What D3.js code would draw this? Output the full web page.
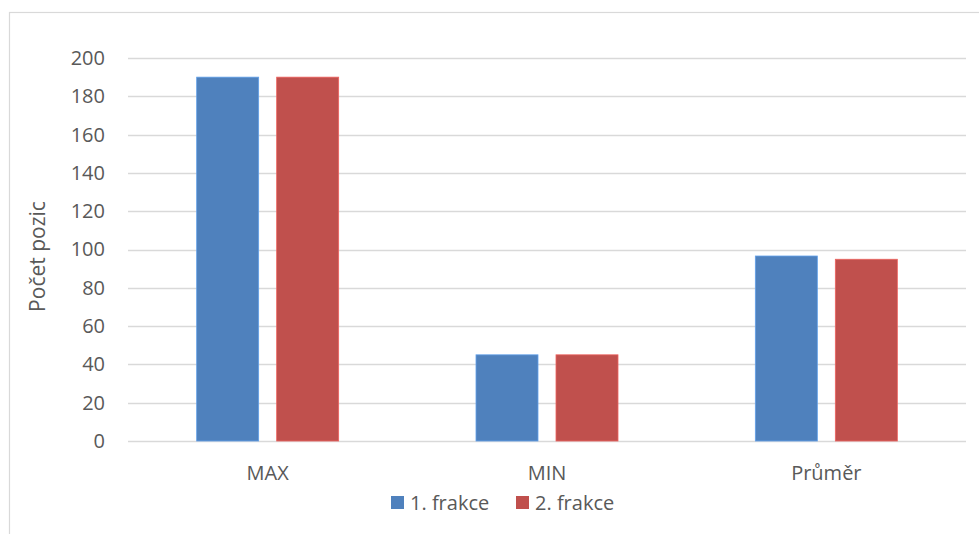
<!DOCTYPE html>
<html>
<head>
<meta charset="utf-8">
<script src="https://cdn.jsdelivr.net/npm/d3@7"></script>
<style>
  html, body { margin: 0; padding: 0; background: #fff; }
  svg { display: block; font-family: "Open Sans", "Noto Sans", sans-serif; }
</style>
</head>
<body>
<svg id="chart" width="979" height="534"></svg>
<script>
// Categories, series and axis ticks
const categories = ["MAX", "MIN", "Průměr"];
const seriesNames = ["1. frakce", "2. frakce"];
const frakce1 = [190, 45, 96.6];
const frakce2 = [190, 45, 94.9];
const yTicks = [0, 20, 40, 60, 80, 100, 120, 140, 160, 180, 200];
const colors = ["#4f81bd", "#c0504d"];
const axisTitle = "Počet pozic";

const svg = d3.select("#chart");
const textColor = "#595959";
const gridColor = "#d9d9d9";
const fontSize = "20px";

// Chart area frame
svg.append("rect")
  .attr("x", 9.5).attr("y", 12.5)
  .attr("width", 1000).attr("height", 600)
  .attr("fill", "#fff")
  .attr("stroke", gridColor).attr("stroke-width", 1.2);

const plot = { left: 128, right: 966, top: 58, bottom: 441 };

const x = d3.scaleBand().domain(categories)
  .range([plot.left, plot.right]).paddingInner(0).paddingOuter(0);
// bars inside one category group: 62px wide, 18px apart
const xs = d3.scaleBand().domain(seriesNames)
  .range([0, 142]).paddingInner(0.225).paddingOuter(0);
const y = d3.scaleLinear().domain([0, 200]).range([plot.bottom, plot.top]);

// Gridlines
svg.append("g").selectAll("line").data(yTicks).join("line")
  .attr("x1", plot.left).attr("x2", plot.right)
  .attr("y1", d => Math.round(y(d)) + 0.5).attr("y2", d => Math.round(y(d)) + 0.5)
  .attr("stroke", gridColor).attr("stroke-width", 1.5);

// Y axis tick labels
const yAxis = d3.axisLeft(y).tickValues(yTicks).tickSize(0).tickPadding(0);
const gy = svg.append("g").attr("transform", `translate(${plot.left - 23},0)`).call(yAxis);
gy.select(".domain").remove();
gy.selectAll("text").attr("fill", textColor).style("font-size", fontSize)
  .style("font-family", "'Open Sans', sans-serif");

// X axis category labels
const xAxis = d3.axisBottom(x).tickSize(0).tickPadding(0);
const gx = svg.append("g").attr("transform", `translate(0,${plot.bottom + 25})`).call(xAxis);
gx.select(".domain").remove();
gx.selectAll("text").attr("fill", textColor).style("font-size", fontSize)
  .style("font-family", "'Open Sans', sans-serif");

// Bars
const series = [frakce1, frakce2];
series.forEach((vals, si) => {
  svg.append("g").selectAll("rect").data(categories.map((c, i) => ({ c, v: vals[i] })))
    .join("rect")
    .attr("x", d => x(d.c) + x.bandwidth() / 2 - 71 + xs(seriesNames[si]))
    .attr("y", d => y(d.v))
    .attr("width", xs.bandwidth())
    .attr("height", d => y(0) - y(d.v))
    .attr("fill", colors[si])
    .attr("stroke", d3.color(colors[si]).brighter(0.6))
    .attr("stroke-width", 0.8);
});

// Axis title
svg.append("text")
  .attr("transform", `translate(45,${(plot.top + plot.bottom) / 2 + 7}) rotate(-90)`)
  .attr("text-anchor", "middle")
  .attr("fill", textColor)
  .style("font-size", "21px")
  .text(axisTitle);

// Legend
const legendItems = [{ name: seriesNames[0], x: 391 }, { name: seriesNames[1], x: 516 }];
const lg = svg.append("g");
legendItems.forEach((it, i) => {
  lg.append("rect").attr("x", it.x).attr("y", 496).attr("width", 13).attr("height", 13)
    .attr("fill", colors[i]);
  lg.append("text").attr("x", it.x + 19).attr("y", 510)
    .attr("fill", textColor).style("font-size", fontSize).text(it.name);
});
</script>
</body>
</html>
